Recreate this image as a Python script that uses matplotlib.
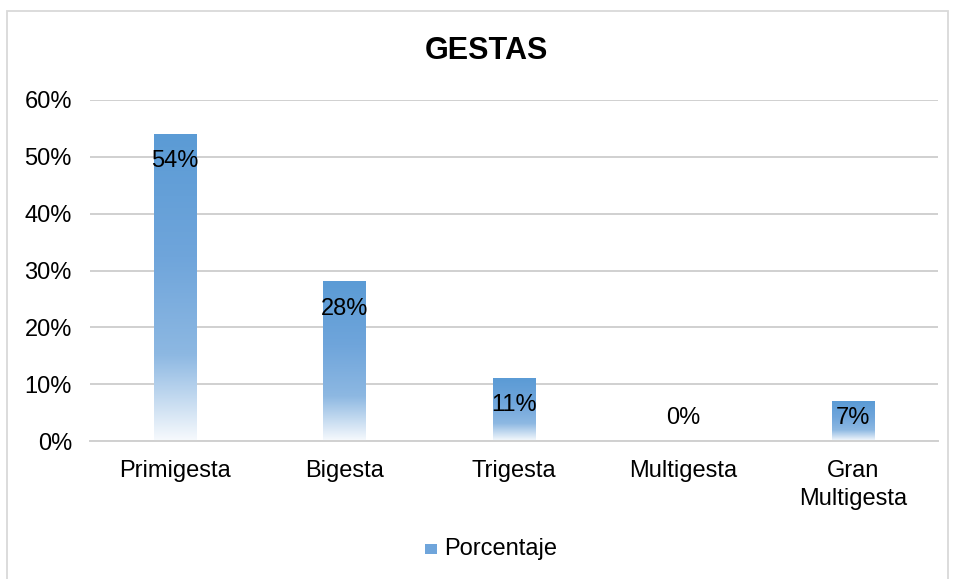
import matplotlib
matplotlib.use("Agg")
import matplotlib.pyplot as plt
import numpy as np
from matplotlib.colors import LinearSegmentedColormap
from matplotlib.patches import Rectangle
from matplotlib.ticker import PercentFormatter

plt.rcParams["font.family"] = ["Liberation Sans", "DejaVu Sans"]

categorias = ["Primigesta", "Bigesta", "Trigesta", "Multigesta", "Gran\nMultigesta"]
porcentajes = [0.54, 0.28, 0.11, 0.00, 0.07]
etiquetas = ["54%", "28%", "11%", "0%", "7%"]

# degradado tipo Excel: azul arriba, blanco en la base
degradado = LinearSegmentedColormap.from_list(
    "gestas", [(0.0, "#F7FAFD"), (0.28, "#8DB8E2"), (0.6, "#6FA5DB"), (1.0, "#5B9BD5")])

fig = plt.figure(figsize=(9.55, 5.79), dpi=100)
ax = fig.add_axes([90 / 955, 1 - 441 / 579, 848 / 955, 341 / 579])

ancho = 0.25
x = np.arange(len(categorias))
grad = np.linspace(0, 1, 256).reshape(-1, 1)
for xi, v in zip(x, porcentajes):
    if v > 0:
        ax.imshow(grad, cmap=degradado, origin="lower", aspect="auto",
                  extent=(xi - ancho / 2, xi + ancho / 2, 0, v),
                  interpolation="bilinear", zorder=2)

for xi, v, t in zip(x, porcentajes, etiquetas):
    ax.text(xi, max(v - 0.0475, 0.041), t, ha="center", va="center",
            fontsize=17, color="black", zorder=3)

ax.set_xlim(-0.5, len(categorias) - 0.5)
ax.set_ylim(0, 0.6)
ax.set_yticks(np.arange(0, 0.61, 0.1))
ax.yaxis.set_major_formatter(PercentFormatter(1.0, decimals=0))
ax.set_xticks(x)
ax.set_xticklabels(categorias, fontsize=17, linespacing=1.35)
ax.tick_params(axis="y", labelsize=17, length=0, pad=13)
ax.tick_params(axis="x", length=0, pad=14)
ax.grid(axis="y", color="#D0D0D0", linewidth=1.4, zorder=0)
ax.set_axisbelow(True)
for lado in ["top", "right", "left"]:
    ax.spines[lado].set_visible(False)
ax.spines["bottom"].set_color("#D0D0D0")
ax.spines["bottom"].set_linewidth(1.4)

fig.text(486 / 955, 1 - 51 / 579, "GESTAS", ha="center", va="center",
         fontsize=22, fontweight="bold")

# leyenda
fig.patches.append(Rectangle((425 / 955, 1 - 554 / 579), 12 / 955, 10 / 579,
                             transform=fig.transFigure, facecolor="#6FA5DB",
                             edgecolor="none"))
fig.text(444 / 955, 1 - 549 / 579, "Porcentaje", ha="left", va="center", fontsize=17)

# marco del gráfico
fig.patches.append(Rectangle((7 / 955, -0.05), 941 / 955, 1 - 11 / 579 + 0.05,
                             transform=fig.transFigure, fill=False,
                             edgecolor="#D9D9D9", linewidth=1.3))

fig.savefig("out.png", dpi=100)
